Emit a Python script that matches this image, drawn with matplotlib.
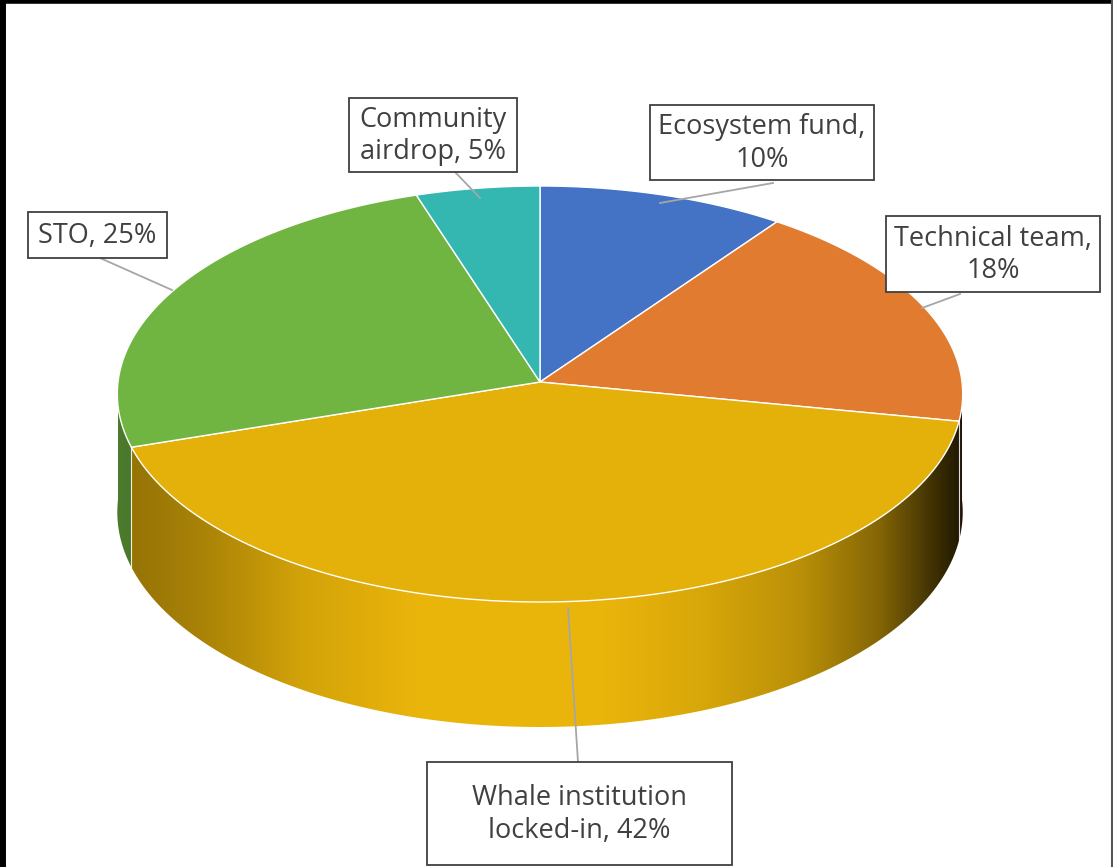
import numpy as np
import matplotlib
matplotlib.use("Agg")
import matplotlib.pyplot as plt
from matplotlib.patches import Polygon, Rectangle
from matplotlib.colors import to_rgb

# ---- data ----
categories = ["Ecosystem fund", "Technical team", "Whale institution locked-in", "STO", "Community airdrop"]
shares = [10, 18, 42, 25, 5]
colors = ["#4472c4", "#e07b2f", "#e4b00a", "#70b542", "#33b7b0"]
label_texts = ["Ecosystem fund,\n10%", "Technical team,\n18%", "Whale institution\nlocked-in, 42%",
               "STO, 25%", "Community\nairdrop, 5%"]

# ---- layout ----
W, H = 1113, 867
cx, cy = 540, 382        # projected centre (apex)
R = 422                  # horizontal radius
A = 207.3                # vertical scale
K = 0.0577               # perspective factor
D = 117.8                # wall depth

boxes = [(650, 105, 874, 180), (886, 216, 1100, 292), (427, 762, 732, 865),
         (28, 212, 167, 258), (349, 98, 517, 172)]
leaders = [((773, 183), (660, 203)), ((960, 294), (922, 308)), ((578, 762), (568, 608)),
           ((100, 258), (172, 290)), ((455, 172), (480, 198))]

fig = plt.figure(figsize=(W / 100, H / 100), dpi=100)
ax = fig.add_axes([0, 0, 1, 1])
ax.set_xlim(0, W)
ax.set_ylim(H, 0)
ax.axis("off")

def pt(t, bottom=False):
    r = np.radians(t)
    u, v = np.sin(r), -np.cos(r)
    den = 1 - K * v
    x = cx + R * u / den
    y = cy + A * v / den + (D / den if bottom else 0.0)
    return x, y

# brightness along x for side walls
bx = np.array([100, 135, 200, 300, 420, 600, 700, 800, 880, 930, 970])
bv = np.array([0.70, 0.66, 0.74, 0.92, 1.03, 1.03, 0.95, 0.82, 0.58, 0.30, 0.10])

fracs = np.array(shares, dtype=float) / np.sum(shares)
bounds = np.concatenate([[0], np.cumsum(fracs) * 360])

# side walls
for i, c in enumerate(colors):
    t1, t2 = bounds[i], bounds[i + 1]
    a, b = max(t1, 90), min(t2, 270)
    if a >= b:
        continue
    ts = np.linspace(a, b, 240)
    top = np.array([pt(t) for t in ts])
    bot = np.array([pt(t, True) for t in ts[::-1]])
    poly = np.vstack([top, bot])
    x0, x1 = poly[:, 0].min() - 2, poly[:, 0].max() + 2
    y0, y1 = poly[:, 1].min() - 2, poly[:, 1].max() + 2
    xs = np.linspace(x0, x1, 400)
    f = np.interp(xs, bx, bv)
    rgb = np.array(to_rgb(c))
    img = np.clip(f[:, None] * rgb[None, :], 0, 1)[None, :, :]
    img = np.repeat(img, 2, axis=0)
    im = ax.imshow(img, extent=[x0, x1, y1, y0], aspect="auto", interpolation="bilinear", zorder=1)
    patch = Polygon(poly, closed=True, facecolor="none", edgecolor="none")
    ax.add_patch(patch)
    im.set_clip_path(patch)
    if a == t1:
        ax.plot([top[0, 0], bot[-1, 0]], [top[0, 1], bot[-1, 1]], color="white", lw=0.8, zorder=2, alpha=0.85)

# top wedges
for i, c in enumerate(colors):
    ts = np.linspace(bounds[i], bounds[i + 1], 240)
    arc = np.array([pt(t) for t in ts])
    poly = np.vstack([[cx, cy], arc])
    ax.add_patch(Polygon(poly, closed=True, facecolor=c, edgecolor="white", lw=1.0, zorder=3))

# labels
for (x0, y0, x1, y1), txt, (s, e) in zip(boxes, label_texts, leaders):
    ax.plot([s[0], e[0]], [s[1], e[1]], color="#a6a6a6", lw=1.3, zorder=4)
    ax.add_patch(Rectangle((x0, y0), x1 - x0, y1 - y0, facecolor="white", edgecolor="#404040", lw=1.3, zorder=5))
    ax.text((x0 + x1) / 2, (y0 + y1) / 2 + 1, txt, ha="center", va="center", fontsize=19.5,
            family="Open Sans", color="#404040", linespacing=1.2, zorder=6)

# outer frame (top, left, right)
fig.add_artist(plt.Line2D([0, 1], [0.999, 0.999], transform=fig.transFigure, color="black", lw=4))
fig.add_artist(plt.Line2D([0.002, 0.002], [0, 1], transform=fig.transFigure, color="black", lw=5))
fig.add_artist(plt.Line2D([0.9995, 0.9995], [0, 1], transform=fig.transFigure, color="#555555", lw=1.5))

fig.savefig("out.png", dpi=100)
